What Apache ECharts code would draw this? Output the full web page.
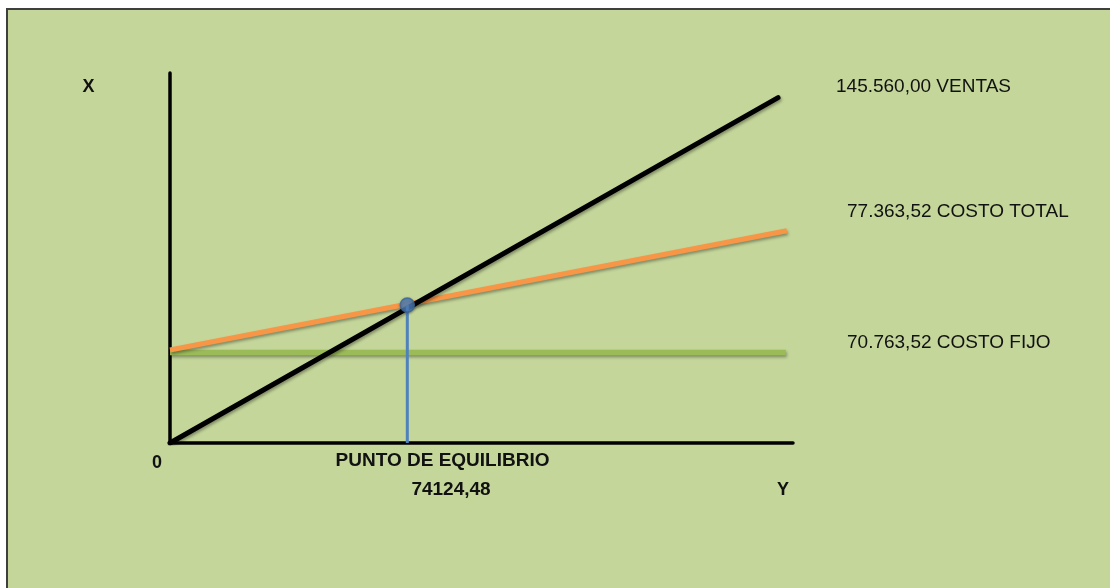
<!DOCTYPE html>
<html>
<head>
<meta charset="utf-8">
<script src="https://cdn.jsdelivr.net/npm/echarts@6/dist/echarts.min.js"></script>
<style>
    html, body { margin: 0; padding: 0; background: #ffffff; overflow: hidden; }
    #frame {
        position: absolute; left: 6px; top: 8px; width: 1120px; height: 600px;
        background: #c4d69a; border-left: 2px solid #3f3f3f; border-top: 2px solid #3f3f3f;
    }
    #chart { position: absolute; left: 0; top: 0; width: 1110px; height: 588px; }
</style>
</head>
<body>
<div id="frame"></div>
<div id="chart"></div>
<script>
// Punto de equilibrio
var puntoEquilibrio = 74124.48;
var ventas = [[0, 0], [189940, 138120]];
var costoTotal = [[0, 37200], [192650, 84920]];
var costoFijo = [[0, 36200], [192340, 36200]];
var equilibrio = [[puntoEquilibrio, 0], [puntoEquilibrio, 55200]];

var seriesLabels = ['145.560,00 VENTAS', '77.363,52 COSTO TOTAL', '70.763,52 COSTO FIJO'];
var xMax = 194600;
var yMax = 148000;

var chart = echarts.init(document.getElementById('chart'));

var fontFamily = '"Liberation Sans", Arial, sans-serif';
var lineShadow = {
    shadowColor: 'rgba(0,0,0,0.35)',
    shadowBlur: 3,
    shadowOffsetX: 1,
    shadowOffsetY: 2
};

function txt(text, x, y, size, bold, align) {
    return {
        type: 'text',
        x: x,
        y: y,
        style: {
            text: text,
            fill: '#111111',
            font: (bold ? 'bold ' : '') + size + 'px ' + fontFamily,
            textAlign: align || 'center',
            textVerticalAlign: 'middle'
        }
    };
}

var option = {
    animation: false,
    grid: {
        left: 170,
        top: 73,
        width: 623,
        height: 370
    },
    xAxis: {
        type: 'value',
        min: 0,
        max: xMax,
        axisLine: { show: true, lineStyle: { color: '#000000', width: 3.5 } },
        axisTick: { show: false },
        axisLabel: { show: false },
        splitLine: { show: false }
    },
    yAxis: {
        type: 'value',
        min: 0,
        max: yMax,
        axisLine: { show: true, lineStyle: { color: '#000000', width: 3.5 } },
        axisTick: { show: false },
        axisLabel: { show: false },
        splitLine: { show: false }
    },
    series: [
        {
            name: 'Costo fijo',
            type: 'line',
            data: costoFijo,
            symbol: 'none',
            lineStyle: Object.assign({ color: '#9bbb59', width: 5.5 }, lineShadow)
        },
        {
            name: 'Costo total',
            type: 'line',
            data: costoTotal,
            symbol: 'none',
            lineStyle: Object.assign({ color: '#f79646', width: 5 }, lineShadow)
        },
        {
            name: 'Ventas',
            type: 'line',
            data: ventas,
            symbol: 'none',
            lineStyle: Object.assign({ color: '#000000', width: 5, cap: 'round' }, lineShadow)
        },
        {
            name: 'Equilibrio',
            type: 'line',
            data: equilibrio,
            symbol: 'none',
            lineStyle: { color: '#4f81bd', width: 3 }
        },
        {
            name: 'Punto',
            type: 'scatter',
            data: [equilibrio[1]],
            symbolSize: 14,
            itemStyle: {
                color: '#4f81bd', borderColor: '#3a6496', borderWidth: 1.5,
                shadowColor: 'rgba(0,0,0,0.3)', shadowBlur: 3, shadowOffsetY: 1
            },
            z: 5
        }
    ],
    graphic: [
        txt('X', 88.5, 87, 18, true),
        txt('0', 157, 463, 18, true),
        txt('PUNTO DE EQUILIBRIO', 442.5, 461, 19, true),
        txt(puntoEquilibrio.toFixed(2).replace('.', ','), 451, 490, 19, true),
        txt('Y', 783, 490, 18, true),
        txt(seriesLabels[0], 836, 87, 19, false, 'left'),
        txt(seriesLabels[1], 847, 212, 19, false, 'left'),
        txt(seriesLabels[2], 847, 343, 19, false, 'left')
    ]
};

chart.setOption(option);
</script>
</body>
</html>
